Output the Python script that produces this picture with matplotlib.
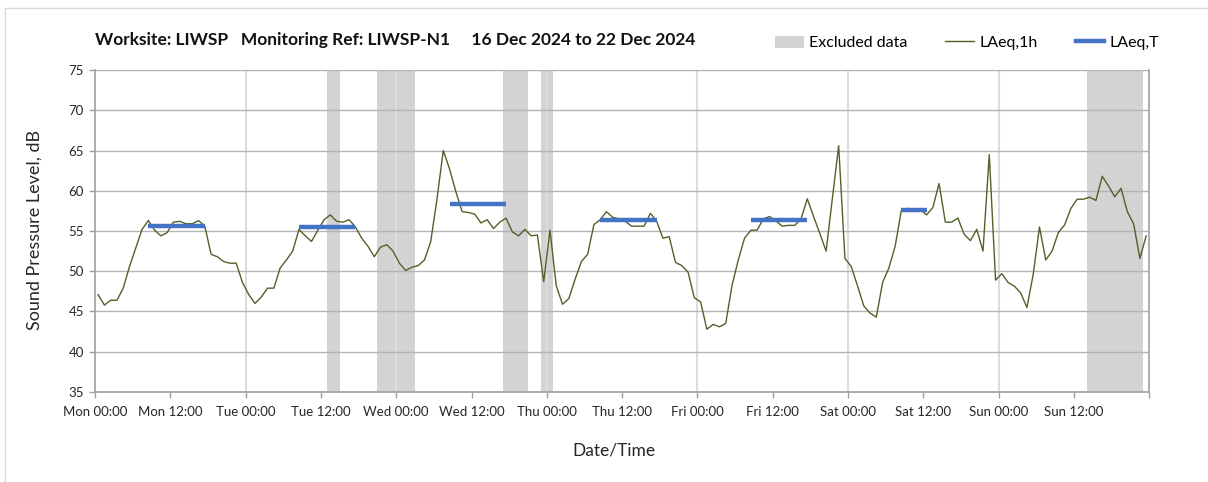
import numpy as np
import matplotlib
matplotlib.use("Agg")
import matplotlib.pyplot as plt
from matplotlib.lines import Line2D
from matplotlib.patches import Patch

plt.rcParams["font.family"] = ["Lato", "DejaVu Sans"]

# ── Data ──────────────────────────────────────────────────────────────────────
# hourly LAeq,1h values, Mon 00:00 .. Sun 23:00 (168 hours)
laeq_1h = [
    47.1, 45.8, 46.4, 46.4, 47.9, 50.6, 52.9, 55.2, 56.3, 55.1, 54.4, 54.8,
    56.1, 56.2, 55.9, 55.9, 56.3, 55.6, 52.1, 51.8, 51.2, 51.0, 51.0, 48.6,
    47.1, 46.0, 46.8, 47.9, 47.9, 50.4, 51.4, 52.5, 55.2, 54.4, 53.7, 55.1,
    56.4, 57.0, 56.2, 56.1, 56.4, 55.5, 54.1, 53.1, 51.8, 53.0, 53.3, 52.5,
    51.0, 50.1, 50.5, 50.7, 51.4, 53.7, 59.0, 65.0, 62.7, 59.9, 57.4, 57.3,
    57.1, 56.0, 56.4, 55.3, 56.1, 56.6, 54.9, 54.4, 55.2, 54.4, 54.5, 48.7,
    55.1, 48.2, 45.9, 46.6, 49.0, 51.2, 52.1, 55.8, 56.4, 57.4, 56.7, 56.5,
    56.2, 55.6, 55.6, 55.6, 57.2, 56.2, 54.1, 54.3, 51.1, 50.7, 49.9, 46.7,
    46.2, 42.8, 43.4, 43.1, 43.5, 48.2, 51.4, 54.1, 55.1, 55.1, 56.5, 56.8,
    56.25, 55.6, 55.7, 55.7, 56.5, 59.0, 56.8, 54.7, 52.5, 59.0, 65.6, 51.6,
    50.6, 48.2, 45.7, 44.8, 44.3, 48.6, 50.4, 53.1, 57.6, 57.8, 57.7, 57.7,
    57.0, 57.9, 60.9, 56.1, 56.1, 56.6, 54.6, 53.8, 55.2, 52.5, 64.5, 48.9,
    49.7, 48.6, 48.15, 47.3, 45.5, 49.6, 55.5, 51.4, 52.5, 54.8, 55.75, 57.8,
    58.95, 58.95, 59.2, 58.8, 61.8, 60.6, 59.25, 60.3, 57.4, 55.9, 51.6, 54.4,
]

# LAeq,T periods: (first hour, last hour, level)
laeq_t_start = [8, 32, 56, 80, 104, 128]
laeq_t_end = [17, 41, 65, 89, 113, 132]
laeq_t_value = [55.6, 55.5, 58.4, 56.4, 56.4, 57.65]

# excluded data: (first hour, last hour)
excl_start = [37, 45, 65, 71, 158]
excl_end = [38, 50, 68, 72, 166]

day_names = ["Mon", "Tue", "Wed", "Thu", "Fri", "Sat", "Sun"]
title = ("Worksite: LIWSP   Monitoring Ref: LIWSP-N1     "
         "16 Dec 2024 to 22 Dec 2024")

LINE_C = "#4F6228"
BLUE_C = "#4472C4"
EXCL_C = "#D3D3D3"
GRID_C = "#B4B4B4"
AXIS_C = "#A0A0A0"

# each hourly value sits in the middle of its hour
times = np.arange(len(laeq_1h)) + 0.5

fig = plt.figure(figsize=(12.08, 4.82), dpi=100)
ax = fig.add_axes([95 / 1208, 1 - 392 / 482, (1149.3 - 95) / 1208, (392 - 70) / 482])

for a, b in zip(excl_start, excl_end):
    ax.axvspan(a, b + 1, color=EXCL_C, lw=0, zorder=0.3)

for d in range(24, 168, 24):
    ax.axvline(d, color="#DCDCDC", lw=1.5, zorder=0.4)

ax.plot(times, laeq_1h, color=LINE_C, lw=1.0, zorder=2)
for a, b, v in zip(laeq_t_start, laeq_t_end, laeq_t_value):
    seg = times[a:b + 1]
    ax.plot(seg, [v] * len(seg), color=BLUE_C, lw=3.2, solid_capstyle="butt", zorder=3)

ax.set_xlim(0, 168)
ax.set_ylim(35, 75)
ax.set_yticks(np.arange(35, 76, 5))
ax.set_xticks(np.arange(0, 169, 12))
xlabels = [f"{day_names[h // 24]} {h % 24:02d}:00" for h in range(0, 168, 12)] + [""]
ax.set_xticklabels(xlabels)

ax.set_axisbelow(True)
ax.yaxis.grid(True, color=GRID_C, lw=1.0)
ax.xaxis.grid(False)

for side in ("left", "bottom", "right"):
    ax.spines[side].set_color(AXIS_C)
    ax.spines[side].set_linewidth(1.2)
ax.spines["top"].set_visible(False)

ax.tick_params(axis="both", direction="out", colors=AXIS_C, labelcolor="#262626",
               labelsize=9.5, width=1.0)
ax.tick_params(axis="x", length=4, pad=6)
ax.tick_params(axis="y", length=4, pad=4)

fig.text(95 / 1208, 1 - 40 / 482, title, fontsize=12.5, fontweight="bold",
         ha="left", va="center", color="#111111")
fig.text(35 / 1208, 1 - 230 / 482, "Sound Pressure Level, dB", rotation=90,
         fontsize=13, ha="center", va="center", color="#262626")
fig.text(614 / 1208, 1 - 450 / 482, "Date/Time", fontsize=12.5,
         ha="center", va="center", color="#262626")

handles = [
    Patch(facecolor=EXCL_C, edgecolor="none"),
    Line2D([], [], color=LINE_C, lw=1.0),
    Line2D([], [], color=BLUE_C, lw=3.2),
]
fig.legend(handles, ["Excluded data", "LAeq,1h", "LAeq,T"], ncol=3,
           loc="center", bbox_to_anchor=(967 / 1208, 1 - 43 / 482),
           frameon=False, fontsize=11.5, handlelength=1.8, handleheight=0.8,
           handletextpad=0.3, columnspacing=2.4)

# chart-area border (left and top edges visible)
fig.add_artist(Line2D([5 / 1208, 5 / 1208], [0, 1 - 8 / 482], color="#D9D9D9",
                      lw=1.0, transform=fig.transFigure))
fig.add_artist(Line2D([5 / 1208, 1], [1 - 8 / 482, 1 - 8 / 482], color="#D9D9D9",
                      lw=1.0, transform=fig.transFigure))

fig.savefig("out.png", dpi=100)
